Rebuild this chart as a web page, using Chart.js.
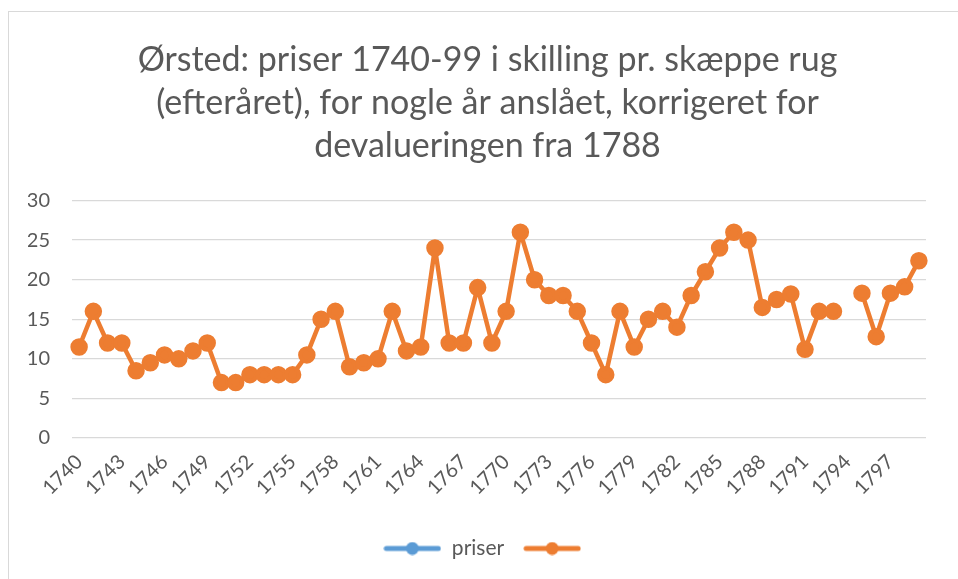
<!DOCTYPE html>
<html>
<head>
<meta charset="utf-8">
<script src="https://cdn.jsdelivr.net/npm/chart.js@4/dist/chart.umd.min.js"></script>
<style>
    body { margin: 0; background: #fff; }
    #frame { position: absolute; left: 8px; top: 11px; width: 970px; height: 580px;
             border-left: 1px solid #d9d9d9; border-top: 1px solid #d9d9d9; }
    #wrap { position: absolute; left: 0; top: 0; width: 958px; height: 579px; }
</style>
</head>
<body>
<div id="frame"></div>
<div id="wrap"><canvas id="rugChart" width="958" height="579"></canvas></div>
<script>
// Years 1740-1799
const years = ['1740','1741','1742','1743','1744','1745','1746','1747','1748','1749',
    '1750','1751','1752','1753','1754','1755','1756','1757','1758','1759',
    '1760','1761','1762','1763','1764','1765','1766','1767','1768','1769',
    '1770','1771','1772','1773','1774','1775','1776','1777','1778','1779',
    '1780','1781','1782','1783','1784','1785','1786','1787','1788','1789',
    '1790','1791','1792','1793','1794','1795','1796','1797','1798','1799'];

// "priser" series has no visible values in the original
const priser = [];

// Prices in skilling (1794 missing)
const rugPriser = [11.5, 16, 12, 12, 8.5, 9.5, 10.5, 10, 11, 12,
    7, 7, 8, 8, 8, 8, 10.5, 15, 16, 9,
    9.5, 10, 16, 11, 11.5, 24, 12, 12, 19, 12,
    16, 26, 20, 18, 18, 16, 12, 8, 16, 11.5,
    15, 16, 14, 18, 21, 24, 26, 25, 16.5, 17.5,
    18.2, 11.2, 16, 16, null, 18.3, 12.8, 18.3, 19.1, 22.4];

const yTicks = [0, 5, 10, 15, 20, 25, 30];

const titleLines = ['Ørsted: priser 1740-99 i skilling pr. skæppe rug',
    '(efteråret), for nogle år anslået, korrigeret for',
    'devalueringen fra 1788'];

const FONT = 'Lato, "Open Sans", sans-serif';
const GREY = '#595959';

// Legend symbol: short line with a dot in the middle
function legendIcon(color) {
    const c = document.createElement('canvas');
    c.width = 58; c.height = 14;
    const g = c.getContext('2d');
    g.strokeStyle = color;
    g.lineWidth = 5;
    g.lineCap = 'round';
    g.beginPath();
    g.moveTo(3, 7); g.lineTo(55, 7);
    g.stroke();
    g.fillStyle = color;
    g.beginPath();
    g.arc(29, 7, 6.5, 0, Math.PI * 2);
    g.fill();
    return c;
}

const ctx = document.getElementById('rugChart').getContext('2d');

window.rugChartInstance = new Chart(ctx, {
    type: 'line',
    data: {
        labels: years,
        datasets: [{
            label: 'priser',
            data: priser,
            borderColor: '#5B9BD5',
            backgroundColor: '#5B9BD5',
            borderWidth: 4.5,
            pointRadius: 6.5
        }, {
            label: '',
            data: rugPriser,
            borderColor: '#ED7D31',
            backgroundColor: '#ED7D31',
            borderWidth: 4.5,
            borderJoinStyle: 'round',
            borderCapStyle: 'round',
            pointRadius: 6.5,
            pointHoverRadius: 6.5,
            spanGaps: false
        }]
    },
    options: {
        responsive: false,
        animation: false,
        layout: {
            padding: { left: 28, right: 11, top: 38, bottom: 10 }
        },
        scales: {
            x: {
                offset: true,
                grid: { display: false },
                border: { display: false },
                afterFit: function (axis) {
                    axis.height = 81;
                    // rotated labels may hang outside the plot, like in Excel
                    axis.paddingLeft = 0;
                    axis.paddingRight = 32;
                },
                ticks: {
                    autoSkip: false,
                    maxRotation: 45,
                    minRotation: 45,
                    padding: 4,
                    color: GREY,
                    font: { family: FONT, size: 20 },
                    callback: function (value, index) {
                        return index % 3 === 0 ? years[index] : null;
                    }
                }
            },
            y: {
                min: 0,
                max: 30,
                afterBuildTicks: function (axis) {
                    axis.ticks = yTicks.map(v => ({ value: v }));
                },
                afterFit: function (axis) {
                    axis.width = 44;
                },
                grid: { color: '#d9d9d9', lineWidth: 1.3, drawTicks: false },
                border: { display: false },
                ticks: {
                    padding: 22,
                    color: GREY,
                    font: { family: FONT, size: 20 }
                }
            }
        },
        plugins: {
            title: {
                display: true,
                text: titleLines,
                color: GREY,
                font: { family: FONT, size: 34, weight: 'normal', lineHeight: 1.27 },
                padding: { top: 0, bottom: 33 }
            },
            legend: {
                display: true,
                position: 'bottom',
                labels: {
                    usePointStyle: true,
                    pointStyleWidth: 58,
                    color: GREY,
                    padding: 19,
                    font: { family: FONT, size: 21 },
                    generateLabels: function (chart) {
                        const items = Chart.defaults.plugins.legend.labels.generateLabels(chart);
                        items.forEach(it => {
                            it.pointStyle = legendIcon(chart.data.datasets[it.datasetIndex].borderColor);
                        });
                        return items;
                    }
                }
            },
            tooltip: { enabled: false }
        }
    }
});
</script>
</body>
</html>
